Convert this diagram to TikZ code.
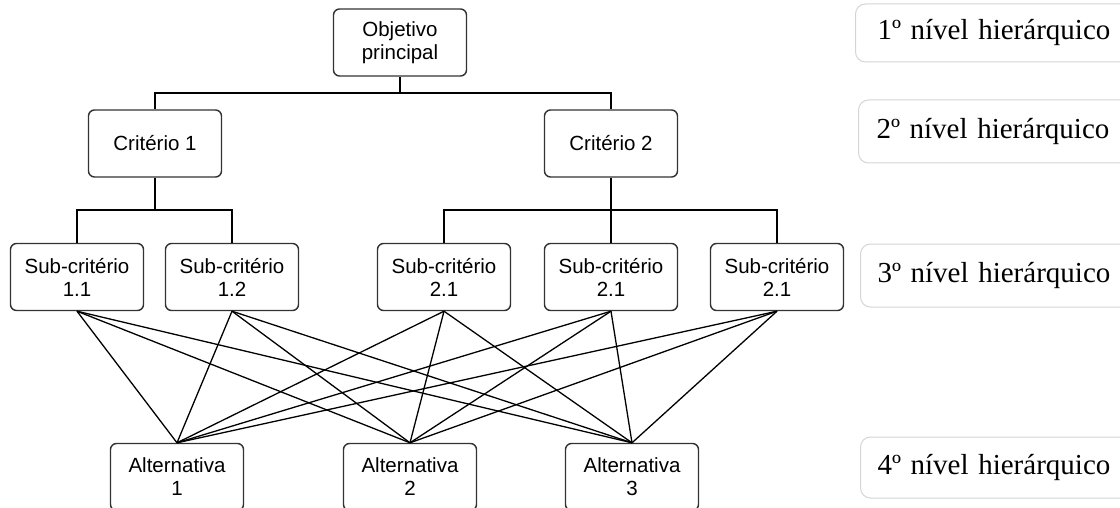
\documentclass[tikz,border=0pt]{standalone}
\usepackage{fontspec}
\newfontfamily\sansl{Liberation Sans}
\newfontfamily\serifl{Liberation Serif}
\begin{document}
\begin{tikzpicture}[x=1pt,y=-1pt,
  box/.style={draw=black!80, line width=1.4pt, rounded corners=6pt, fill=white,
    minimum width=133pt, minimum height=67pt, inner sep=0pt, align=center,
    font=\sansl\fontsize{20.5}{23}\selectfont},
  lvl/.style={draw=black!17, line width=1pt, rounded corners=10pt, anchor=west,
    minimum height=61pt, text width=250pt, align=left, inner ysep=0pt,
    font=\serifl\fontsize{29}{32}\selectfont},
  conn/.style={draw=black, line width=1.3pt}]
\useasboundingbox (0,0) rectangle (1120,508);
% nodes
\node[box] (obj) at (400,42.5) {Objetivo\\principal};
\node[box] (c1) at (155,143.5) {Crit\'erio 1};
\node[box] (c2) at (611,143.5) {Crit\'erio 2};
\node[box] (s11) at (77,277) {Sub-crit\'erio\\1.1};
\node[box] (s12) at (232,277) {Sub-crit\'erio\\1.2};
\node[box] (s21a) at (444,277) {Sub-crit\'erio\\2.1};
\node[box] (s21b) at (611,277) {Sub-crit\'erio\\2.1};
\node[box] (s21c) at (777,277) {Sub-crit\'erio\\2.1};
\node[box] (a1) at (177,477) {Alternativa\\1};
\node[box] (a2) at (410,477) {Alternativa\\2};
\node[box] (a3) at (632,477) {Alternativa\\3};
% level labels
\node[lvl, inner xsep=22pt, minimum height=58pt] (l1) at (855,33) {1º nível hierárquico};
\node[lvl, inner xsep=18pt, minimum height=63pt] (l2) at (858,131.5) {2º nível hierárquico};
\node[lvl, inner xsep=17pt, minimum height=63pt] (l3) at (860,275.5) {3º nível hierárquico};
\node[lvl, inner xsep=17pt, minimum height=61pt] (l4) at (860,467.5) {4º nível hierárquico};
% tree connectors
\coordinate (b0) at (400,93);
\coordinate (b1) at (155,210);
\coordinate (b2) at (611,210);
\draw[conn] (obj.south) -- (b0);
\draw[conn] (b0) -| (c1.north);
\draw[conn] (b0) -| (c2.north);
\draw[conn] (c1.south) -- (b1);
\draw[conn] (b1) -| (s11.north);
\draw[conn] (b1) -| (s12.north);
\draw[conn] (c2.south) -- (b2);
\draw[conn] (b2) -| (s21a.north);
\draw[conn] (b2) -| (s21c.north);
\draw[conn] (b2) -- (s21b.north);
% full bipartite links
\foreach \s in {s11,s12,s21a,s21b,s21c}{
  \foreach \a in {a1,a2,a3}{
    \draw[conn] (\s.south) -- (\a.north);
  }
}
\end{tikzpicture}
\end{document}
